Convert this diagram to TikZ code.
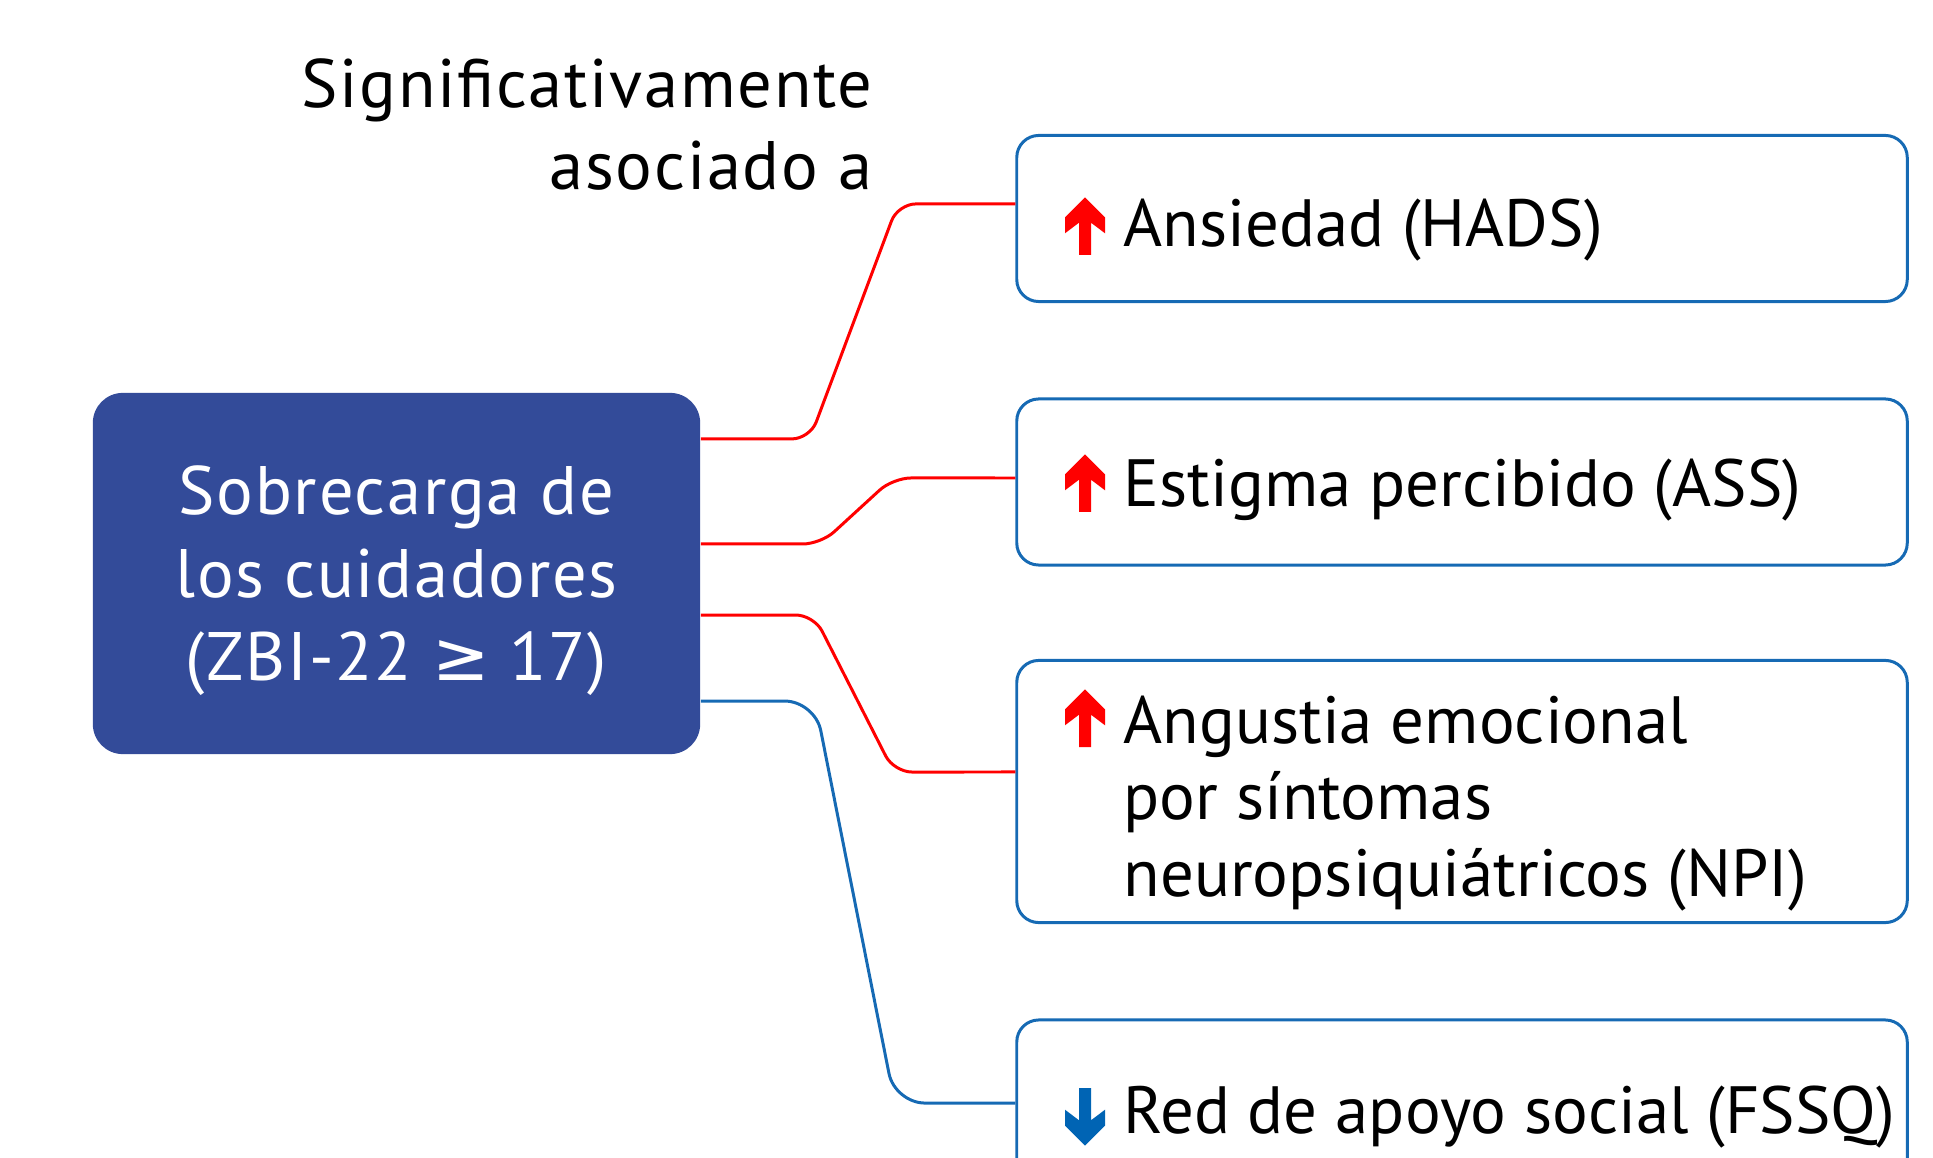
\documentclass[tikz,border=0pt]{standalone}
\usepackage{fontspec}
\setmainfont{PT Sans}
\newfontfamily\widefont[LetterSpace=2.5]{PT Sans}
\newfontfamily\symfont{DejaVu Sans}
\usetikzlibrary{positioning}

\definecolor{cargablue}{RGB}{51,75,153}
\definecolor{boxblue}{RGB}{22,106,180}
\definecolor{linkred}{RGB}{255,0,0}
\definecolor{downblue}{RGB}{0,100,180}

\tikzset{
  hub/.style={rectangle, rounded corners=0.3cm, fill=cargablue, text=white,
    minimum width=6.07cm, minimum height=3.61cm, align=center, text depth=0pt,
    font=\widefont\fontsize{19.5}{23.6}\selectfont},
  item/.style={rectangle, rounded corners=0.22cm, draw=boxblue, line width=0.85pt,
    minimum width=8.9cm},
  itemtext/.style={inner sep=0pt, align=left, font=\fontsize{19}{21.8}\selectfont},
  titulo/.style={inner sep=0pt, align=right, font=\widefont\fontsize{19.5}{23.6}\selectfont},
  redlink/.style={draw=linkred, line width=0.85pt, rounded corners=0.18cm},
  bluelink/.style={draw=boxblue, line width=0.85pt, rounded corners=0.3cm},
  flecha/.pic={
    \fill (0,-57.7) -- (20,-37.7) -- (20,-21.7) -- (6,-32.3) -- (6,0)
      -- (-6,0) -- (-6,-32.3) -- (-20,-21.7) -- (-20,-37.7) -- cycle;
  }
}

\begin{document}
\begin{tikzpicture}[x=0.01cm, y=-0.01cm]
  \useasboundingbox (0,0) rectangle (1933,1158);
  \clip (0,0) rectangle (1933,1158);

  % Title
  \node[titulo, anchor=base east] (titulo) at (873,190) {Significativamente\\asociado a};

  % Main box
  \node[hub] (carga) at (396.5,573.5) {Sobrecarga de\\los cuidadores\\(ZBI-22 {\symfont ≥} 17)};

  % Boxes
  \node[item, minimum height=1.66cm] (ansiedad) at (1462,218.5) {};
  \node[item, minimum height=1.66cm] (estigma) at (1462,482) {};
  \node[item, minimum height=2.62cm] (angustia) at (1462,791.5) {};
  \node[item, minimum height=1.66cm] (apoyo) at (1462,1103) {};

  % Texts
  \node[itemtext, anchor=base west] (ansiedadtxt) at (1123,247) {Ansiedad (HADS)};
  \node[itemtext, anchor=base west] (estigmatxt) at (1123,507) {Estigma percibido (ASS)};
  \node[itemtext, anchor=north west] (angustiatxt) at (1123,695) {Angustia emocional\\por síntomas\\neuropsiquiátricos (NPI)};
  \node[itemtext, anchor=base west] (apoyotxt) at (1123,1133) {Red de apoyo social (FSSQ)};

  % Arrows
  \pic[color=linkred] at (1085,255) {flecha};
  \pic[color=linkred] at (1085,512) {flecha};
  \pic[color=linkred] at (1085,747) {flecha};
  \pic[color=downblue, yscale=-1] at (1085,1088) {flecha};

  % Connectors
  \draw[redlink] ([yshift=1.345cm]carga.east) -- ++(109,0) -- ++(88,-235) -- ([yshift=0.145cm]ansiedad.west);
  \draw[redlink] ([yshift=0.295cm]carga.east) -- ++(120,0) -- ++(72,-66) -- ([yshift=0.04cm]estigma.west);
  \draw[redlink] ([yshift=-0.415cm]carga.east) -- ++(113,0) -- ++(80,157) -- ([yshift=0.195cm]angustia.west);
  \draw[bluelink] ([yshift=-1.275cm]carga.east) -- ++(114,0) -- ++(80,402) -- (apoyo.west);
\end{tikzpicture}
\end{document}
